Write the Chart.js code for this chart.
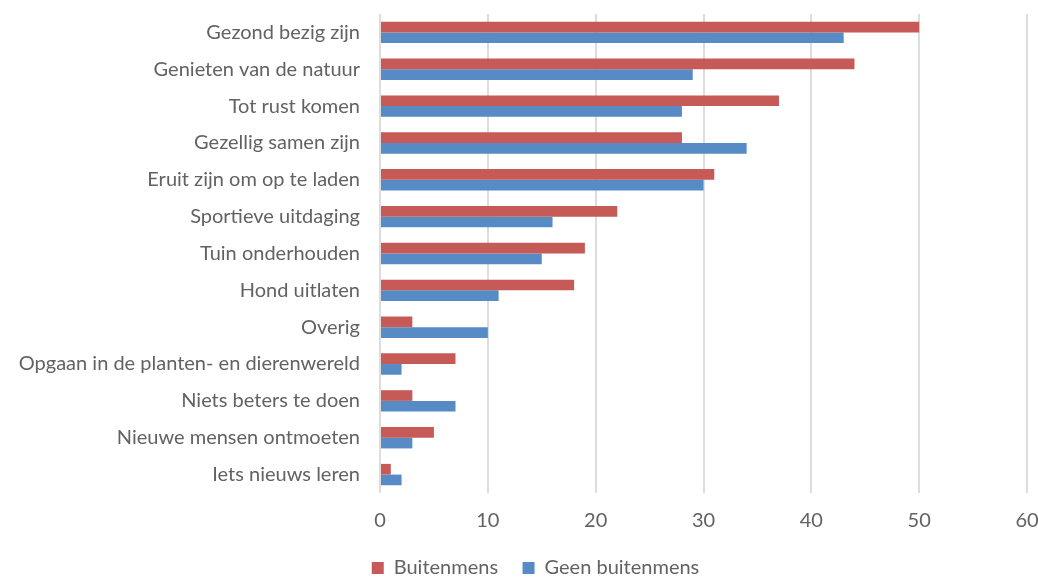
<!DOCTYPE html>
<html>
<head>
<meta charset="utf-8">
<script src="https://cdn.jsdelivr.net/npm/chart.js@4/dist/chart.umd.min.js"></script>
<style>
  html, body { margin: 0; padding: 0; background: #fff; }
  #wrap { width: 1038px; height: 577px; position: relative; }
</style>
</head>
<body>
<div id="wrap"><canvas id="barChart"></canvas></div>
<script>
// categories, top to bottom
const categories = [
    "Gezond bezig zijn",
    "Genieten van de natuur",
    "Tot rust komen",
    "Gezellig samen zijn",
    "Eruit zijn om op te laden",
    "Sportieve uitdaging",
    "Tuin onderhouden",
    "Hond uitlaten",
    "Overig",
    "Opgaan in de planten- en dierenwereld",
    "Niets beters te doen",
    "Nieuwe mensen ontmoeten",
    "Iets nieuws leren"
];
const buitenmens = [50, 44, 37, 28, 31, 22, 19, 18, 3, 7, 3, 5, 1];
const geenBuitenmens = [43, 29, 28, 34, 30, 16, 15, 11, 10, 2, 7, 3, 2];
const xTicks = [0, 10, 20, 30, 40, 50, 60];

const labelFont = { family: "Lato", size: 20 };
const textColor = "#626262";

// decale la legende vers la droite
const shiftLegend = {
    id: 'shiftLegend',
    afterLayout: chart => {
        chart.legend.left += 22;
        chart.legend.right += 22;
    }
};

// Graphique horizontal
const ctx = document.getElementById('barChart');
new Chart(ctx, {
    type: 'bar',
    data: {
        labels: categories,
        datasets: [{
            label: 'Buitenmens',
            data: buitenmens,
            backgroundColor: '#C65A57'
        }, {
            label: 'Geen buitenmens',
            data: geenBuitenmens,
            backgroundColor: '#568BC5'
        }]
    },
    plugins: [shiftLegend],
    options: {
        indexAxis: 'y',
        responsive: true,
        maintainAspectRatio: false,
        animation: false,
        categoryPercentage: 0.58,
        barPercentage: 1,
        layout: {
            padding: { top: 14, left: 0, right: 11, bottom: -11 }
        },
        plugins: {
            tooltip: { enabled: false },
            legend: {
                display: true,
                position: 'bottom',
                labels: {
                    font: labelFont,
                    color: textColor,
                    boxWidth: 12,
                    boxHeight: 12,
                    padding: 4,
                    // espace entre les deux items
                    generateLabels: chart => {
                        const items = Chart.defaults.plugins.legend.labels.generateLabels(chart);
                        items[0].text += "    ";
                        return items;
                    }
                }
            }
        },
        scales: {
            x: {
                min: xTicks[0],
                max: xTicks[xTicks.length - 1],
                afterBuildTicks: scale => {
                    scale.ticks = xTicks.map(v => ({ value: v }));
                },
                afterFit: scale => {
                    scale.height = 61;
                    scale.paddingLeft = 0;
                    scale.paddingRight = 0;
                },
                border: { display: false },
                grid: {
                    color: '#DDDDDD',
                    lineWidth: 2,
                    drawTicks: false
                },
                ticks: {
                    font: labelFont,
                    color: textColor,
                    padding: 16
                }
            },
            y: {
                afterFit: scale => {
                    scale.width = 380;
                    scale.paddingTop = 0;
                    scale.paddingBottom = 0;
                },
                border: { display: false },
                grid: { display: false, drawTicks: false },
                ticks: {
                    font: labelFont,
                    color: textColor,
                    padding: 20
                }
            }
        }
    }
});
</script>
</body>
</html>
